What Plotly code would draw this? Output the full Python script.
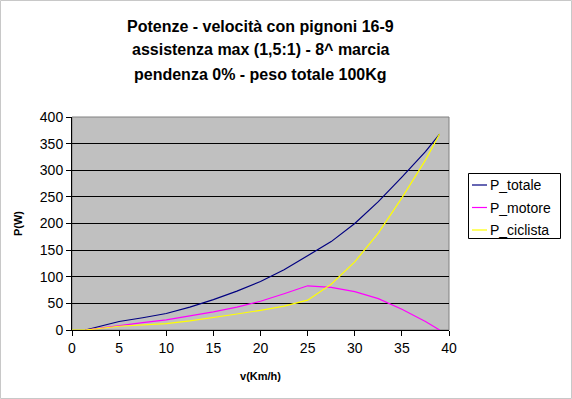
import plotly.graph_objects as go

speed = [1.4, 5, 7.5, 10, 12.5, 15, 17.5, 20, 22.5, 25, 27.5, 30, 32.5, 35, 37.5, 39]
p_totale = [0, 16, 23, 31, 43, 57, 73, 91, 113, 139, 166, 200, 241, 287, 335, 368]
p_motore = [0, 9, 14, 19, 26, 34, 43, 54, 68, 83, 80, 72, 59, 39, 16, 0]
speed_ciclista = [0, 1.4, 5, 7.5, 10, 12.5, 15, 17.5, 20, 22.5, 25, 27.5, 30, 32.5, 35, 37.5, 39]
p_ciclista = [0, 0, 7, 9, 12, 17, 23, 30, 37, 45, 56, 86, 128, 182, 248, 319, 368]

series_names = ["P_totale", "P_motore", "P_ciclista"]
series_colors = ["#000080", "#FF00FF", "#FFFF00"]

x_ticks = [0, 5, 10, 15, 20, 25, 30, 35, 40]
y_ticks = [0, 50, 100, 150, 200, 250, 300, 350, 400]

title_lines = ["Potenze - velocità con pignoni 16-9",
               "assistenza max (1,5:1) - 8^ marcia",
               "pendenza 0% - peso totale 100Kg"]

FONT = "Liberation Sans, Arial, sans-serif"

W, H = 572, 399
L, R, T, B = 72, 123, 117, 69
pw, ph = W - L - R, H - T - B


def px_x(x):
    return (x - L) / pw


def px_y(y):
    return (H - B - y) / ph


fig = go.Figure()
for xs, ys, name, col in zip([speed, speed, speed_ciclista],
                             [p_totale, p_motore, p_ciclista],
                             series_names, series_colors):
    fig.add_trace(go.Scatter(x=xs, y=ys, mode="lines", name=name,
                             line=dict(color=col, width=1.2), showlegend=False))

fig.update_layout(
    width=W, height=H,
    margin=dict(l=L, r=R, t=T, b=B, pad=0, autoexpand=False),
    paper_bgcolor="white",
    plot_bgcolor="#C0C0C0",
    font=dict(family=FONT, color="black", size=14),
    showlegend=False,
    xaxis=dict(range=[0, 40], tickvals=x_ticks, ticktext=[str(v) for v in x_ticks],
               showgrid=False, zeroline=False,
               showline=True, linecolor="black", linewidth=1,
               ticks="outside", ticklen=5, tickcolor="black",
               tickfont=dict(family=FONT, size=14),
               title=dict(text="v(Km/h)", standoff=17,
                          font=dict(family=FONT, size=11, weight="bold"))),
    yaxis=dict(range=[0, 400], tickvals=y_ticks, ticktext=[str(v) for v in y_ticks],
               showgrid=True, gridcolor="black", gridwidth=1, zeroline=False,
               showline=True, linecolor="black", linewidth=1,
               ticks="outside", ticklen=5, tickcolor="black",
               tickfont=dict(family=FONT, size=14),
               title=dict(text="P(W)", standoff=14,
                          font=dict(family=FONT, size=11, weight="bold"))),
)

for i, line in enumerate(title_lines):
    ypx = 26 + 24 * i
    fig.add_annotation(text=line, xref="paper", yref="paper",
                       x=0.5, y=px_y(ypx), xanchor="center", yanchor="middle",
                       showarrow=False,
                       font=dict(family=FONT, size=16, color="black", weight="bold"))

# plot area border (top/right gray)
fig.add_shape(type="rect", xref="paper", yref="paper", x0=0, y0=0, x1=1, y1=1,
              line=dict(color="#808080", width=1), layer="below")
# outer chart border
fig.add_shape(type="rect", xref="paper", yref="paper",
              x0=px_x(0.5), x1=px_x(W - 0.5), y0=px_y(H - 0.5), y1=px_y(0.5),
              line=dict(color="#C8C8C8", width=1))

# legend (drawn manually)
fig.add_shape(type="rect", xref="paper", yref="paper",
              x0=px_x(468.5), x1=px_x(560.5), y0=px_y(238.5), y1=px_y(173.5),
              line=dict(color="black", width=1), fillcolor="white")
for i, (name, col) in enumerate(zip(series_names, series_colors)):
    ypx = 185 + 22.5 * i
    fig.add_shape(type="line", xref="paper", yref="paper",
                  x0=px_x(472), x1=px_x(487), y0=px_y(ypx), y1=px_y(ypx),
                  line=dict(color=col, width=1.2))
    fig.add_annotation(text=name, xref="paper", yref="paper",
                       x=px_x(488), y=px_y(ypx), xanchor="left", yanchor="middle",
                       showarrow=False,
                       font=dict(family=FONT, size=14, color="black"))

fig.write_html("out.html", config={"displayModeBar": False},
               post_script="document.body.style.margin='0';")
